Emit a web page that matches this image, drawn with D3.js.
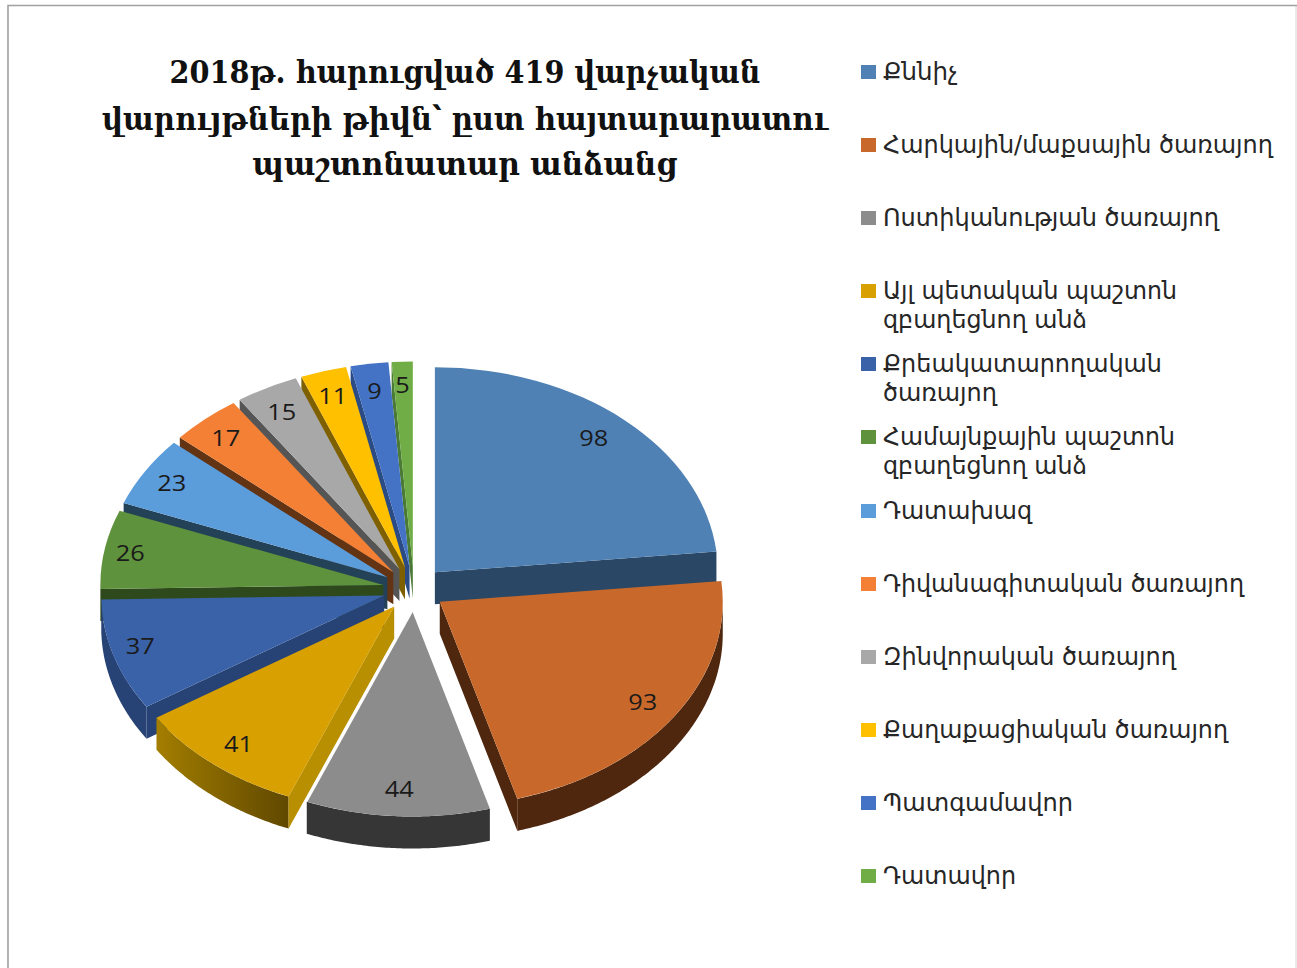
<!DOCTYPE html>
<html><head><meta charset="utf-8">
<style>html,body{margin:0;padding:0;background:#fff;overflow:hidden}svg{display:block}</style>
<script src="https://cdn.jsdelivr.net/npm/d3@7"></script></head>
<body><svg id="c" width="1297" height="968"></svg>
<script>
const titleLines = ["2018թ. հարուցված 419 վարչական","վարույթների թիվն՝ ըստ հայտարարատու","պաշտոնատար անձանց"];
const categories = [["Քննիչ"],["Հարկային/մաքսային ծառայող"],["Ոստիկանության ծառայող"],["Այլ պետական պաշտոն","զբաղեցնող անձ"],["Քրեակատարողական","ծառայող"],["Համայնքային պաշտոն","զբաղեցնող անձ"],["Դատախազ"],["Դիվանագիտական ծառայող"],["Զինվորական ծառայող"],["Քաղաքացիական ծառայող"],["Պատգամավոր"],["Դատավոր"]];
const values = [98,93,44,41,37,26,23,17,15,11,9,5];
const topColors = ["#4f81b4","#c8692b","#8c8c8c","#d8a000","#3a62a8","#5f923c","#5b9ddb","#f48035","#a8a8a8","#ffc000","#4472c4","#70ad47"];
const wallColors = ["#2a4765","#4e270e","#363636","#b88f00","#274274","#2e4a1c","#234157","#633414","#555555","#7f6000","#2b4b85","#4a7a33"];

const svg=d3.select("#c");
svg.append("path").attr("d","M8,968V5.5H1297").attr("fill","none").attr("stroke","#a0a0a0").attr("stroke-width",1.6);
svg.append("path").attr("d","M1296,6V968").attr("fill","none").attr("stroke","#d4d4d4");

// pie geometry
const cx=414,cy=589,rx=283,ry=205,depth=32,explode=0.11;
const labelRadius=[0.985,0.985,0.985,0.985,1.015,1.018,1.0,1.0,0.99,0.985,0.985,0.985];
const labelNudgeX=[-7,-2,0,2,1,0,0,0,-1,-1,0,-1];
const labelNudgeY=[-1,0,-1,0,-3,1,0,2,3,1,2,-2];
const pie=d3.pie().value(d=>d).sort(null)(values);
const pt=(a,f=1)=>[rx*f*Math.sin(a),-ry*f*Math.cos(a)];
const arc=d3.arc().innerRadius(0).outerRadius(rx);
const defs=svg.append("defs");
const g4=defs.append("linearGradient").attr("id","w3");
g4.append("stop").attr("offset",0).attr("stop-color","#a37e00");
g4.append("stop").attr("offset",1).attr("stop-color","#604800");

const order=[11,10,9,8,7,6,5,4,0,1,3,2];
const line=d3.line();
order.forEach(i=>{
  const s=pie[i],mid=(s.startAngle+s.endAngle)/2;
  const [ox,oy]=pt(mid,explode);
  const g=svg.append("g").attr("transform",`translate(${cx+ox},${cy+oy})`);
  // outer wall
  const a0=Math.max(s.startAngle,Math.PI/2),a1=Math.min(s.endAngle,3*Math.PI/2);
  if(a1>a0){
    const aa=d3.range(a0,a1,0.01).concat([a1]);
    const top=aa.map(a=>pt(a));
    const bot=top.map(p=>[p[0],p[1]+depth]).reverse();
    g.append("path").attr("d",line(top.concat(bot))+"Z").attr("fill",i===3?"url(#w3)":wallColors[i]);
  }
  // radial wall
  const wa=Math.sin(s.endAngle)>0&&s.endAngle<Math.PI?s.endAngle:(Math.sin(s.startAngle)<0?s.startAngle:null);
  if(wa!==null){
    const p=pt(wa);
    g.append("path").attr("d",line([[0,0],p,[p[0],p[1]+depth],[0,depth]])+"Z").attr("fill",wallColors[i]);
  }
  // top face
  g.append("path").attr("transform",`scale(1,${ry/rx})`)
    .attr("d",arc({startAngle:s.startAngle,endAngle:s.endAngle}))
    .attr("fill",topColors[i]);
  if(i===2) g.append("path").attr("d",line([[0,0],pt(s.endAngle)])).attr("stroke","#fff").attr("stroke-width",1.2).attr("fill","none");
});
// data labels
svg.append("g").selectAll("text").data(pie).join("text")
  .attr("x",(s,i)=>{const m=(s.startAngle+s.endAngle)/2;return cx+pt(m,labelRadius[i])[0]+labelNudgeX[i];})
  .attr("y",(s,i)=>{const m=(s.startAngle+s.endAngle)/2;return cy+pt(m,labelRadius[i])[1]+labelNudgeY[i];})
  .attr("dy","0.35em").attr("text-anchor","middle")
  .attr("font-family","'Open Sans'").attr("font-size",22).attr("fill","#1a1a1a")
  .attr("textLength",s=>String(s.value).length*14.5).attr("lengthAdjust","spacingAndGlyphs")
  .text(s=>s.value);

// title
const titleBase=[83,130,175],titleW=[591,726,425];
svg.append("g").selectAll("text").data(titleLines).join("text")
  .attr("x",465).attr("y",(d,i)=>titleBase[i]).attr("text-anchor","middle")
  .attr("font-family","'DejaVu Serif'").attr("font-weight","bold").attr("font-size",32).attr("fill","#111")
  .attr("textLength",(d,i)=>titleW[i]).attr("lengthAdjust","spacingAndGlyphs")
  .text(d=>d);

// legend
const rowY=[72,145,218,291,364,437,511,584,657,730,803,876];
const legendWidths=[[75],[390],[336],[294,204],[279,114],[292,204],[149],[361],[293],[345],[190],[133]];
const leg=svg.append("g").selectAll("g").data(categories).join("g").attr("transform",(d,i)=>`translate(861,${rowY[i]})`);
leg.append("rect").attr("y",-7).attr("width",15).attr("height",14).attr("fill",(d,i)=>topColors[i]);
categories.forEach((lines,i)=>{
  d3.select(leg.nodes()[i]).selectAll("text").data(lines).join("text")
    .attr("x",22).attr("y",(d,j)=>j*29+8).attr("font-family","'DejaVu Sans'").attr("font-size",24).attr("fill","#262626")
    .attr("textLength",(d,j)=>legendWidths[i][j]).attr("lengthAdjust","spacingAndGlyphs")
    .text(d=>d);
});
</script></body></html>
